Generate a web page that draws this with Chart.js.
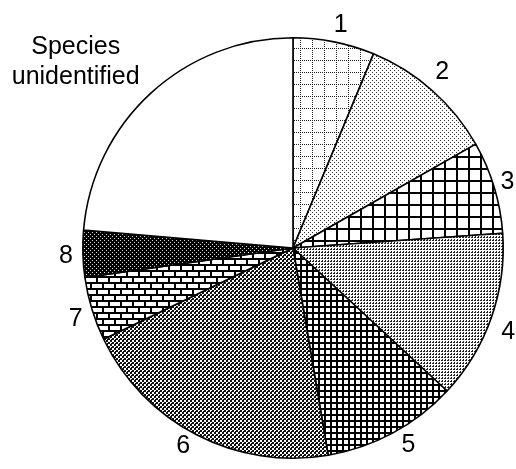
<!DOCTYPE html>
<html>
<head>
<meta charset="utf-8">
<script src="https://cdn.jsdelivr.net/npm/chart.js@4"></script>
<style>
  body { margin: 0; background: #fff; }
  #wrap { width: 516px; height: 469px; }
</style>
</head>
<body>
<div id="wrap"><canvas id="grafico" width="516" height="469"></canvas></div>
<script>
// data (share of each slice, %)
const categorias = ['1', '2', '3', '4', '5', '6', '7', '8', 'Species\nunidentified'];
const valores = [6.25, 10.5, 7.1, 13.0, 10.4, 20.5, 4.9, 3.6, 23.6];

// extra shift for labels that are not at the plain radial spot
const deslocLabel = [[3, 1], [-2, -5], [-4, 0], [0, 8], [7, -4], [-5, -5], [1, 5], [1, 2], [-63, -18]];

const ctxGrafico = document.getElementById('grafico').getContext('2d');

// small tiles used as hatch fills
function padrao(tam, desenha) {
    const c = document.createElement('canvas');
    c.width = tam; c.height = tam;
    const g = c.getContext('2d');
    g.fillStyle = '#fff';
    g.fillRect(0, 0, tam, tam);
    desenha(g);
    return ctxGrafico.createPattern(c, 'repeat');
}

const preenchimentos = [
    // 1 - dotted grid
    padrao(12, g => {
        g.fillStyle = '#222';
        for (let i = 0; i < 12; i += 2) { g.fillRect(i, 0, 1, 1); g.fillRect(0, i, 1, 1); }
    }),
    // 2 - sparse dots
    padrao(4, g => {
        g.fillStyle = '#333';
        g.fillRect(0, 0, 1, 1); g.fillRect(2, 2, 1, 1);
    }),
    // 3 - bold square grid
    padrao(12, g => {
        g.fillStyle = '#000';
        g.fillRect(0, 0, 12, 2); g.fillRect(0, 0, 2, 12);
    }),
    // 4 - fine stipple (denser than 2)
    padrao(3, g => {
        g.fillStyle = '#222';
        g.fillRect(0, 0, 2, 1); g.fillRect(1, 2, 1, 1);
    }),
    // 5 - dense grid
    padrao(6, g => {
        g.fillStyle = '#000';
        g.fillRect(0, 0, 6, 2); g.fillRect(0, 0, 2, 6);
    }),
    // 6 - diamond crosshatch
    padrao(4, g => {
        g.fillStyle = '#111';
        g.fillRect(0, 0, 4, 4);
        g.fillStyle = '#fff';
        g.fillRect(0, 0, 2, 2);
        g.fillRect(2, 2, 2, 1); g.fillRect(2, 3, 1, 1);
    }),
    // 7 - bricks
    padrao(12, g => {
        g.fillStyle = '#000';
        g.fillRect(0, 0, 12, 2); g.fillRect(0, 6, 12, 2);
        g.fillRect(0, 2, 2, 4); g.fillRect(6, 8, 2, 4);
    }),
    // 8 - black with white dots
    padrao(4, g => {
        g.fillStyle = '#000';
        g.fillRect(0, 0, 4, 4);
        g.fillStyle = '#ddd';
        g.fillRect(0, 0, 1, 1); g.fillRect(2, 2, 1, 1);
    }),
    // unidentified - plain white
    '#ffffff'
];

// labels around the pie, placed from each arc's own geometry
const rotulosFora = {
    id: 'rotulosFora',
    afterDatasetsDraw(chart) {
        const c = chart.ctx;
        const arcos = chart.getDatasetMeta(0).data;
        c.save();
        c.fillStyle = '#000';
        c.font = '25px "Liberation Sans", Arial, sans-serif';
        c.textAlign = 'center';
        c.textBaseline = 'middle';
        arcos.forEach((arco, i) => {
            const meio = (arco.startAngle + arco.endAngle) / 2;
            const r = arco.outerRadius + 18;
            const x = arco.x + r * Math.cos(meio) + deslocLabel[i][0];
            const y = arco.y + r * Math.sin(meio) + deslocLabel[i][1];
            const linhas = categorias[i].split('\n');
            linhas.forEach((txt, k) => {
                c.fillText(txt, x, y + (k - (linhas.length - 1) / 2) * 30);
            });
        });
        c.restore();
    }
};

new Chart(ctxGrafico, {
    type: 'pie',
    data: {
        labels: categorias,
        datasets: [{
            data: valores,
            backgroundColor: preenchimentos,
            borderColor: '#000',
            borderWidth: 1.6
        }]
    },
    options: {
        responsive: false,
        animation: false,
        layout: { padding: { left: 82, top: 37, right: 12, bottom: 10 } },
        plugins: {
            legend: { display: false },
            tooltip: { enabled: false }
        }
    },
    plugins: [rotulosFora]
});
</script>
</body>
</html>
